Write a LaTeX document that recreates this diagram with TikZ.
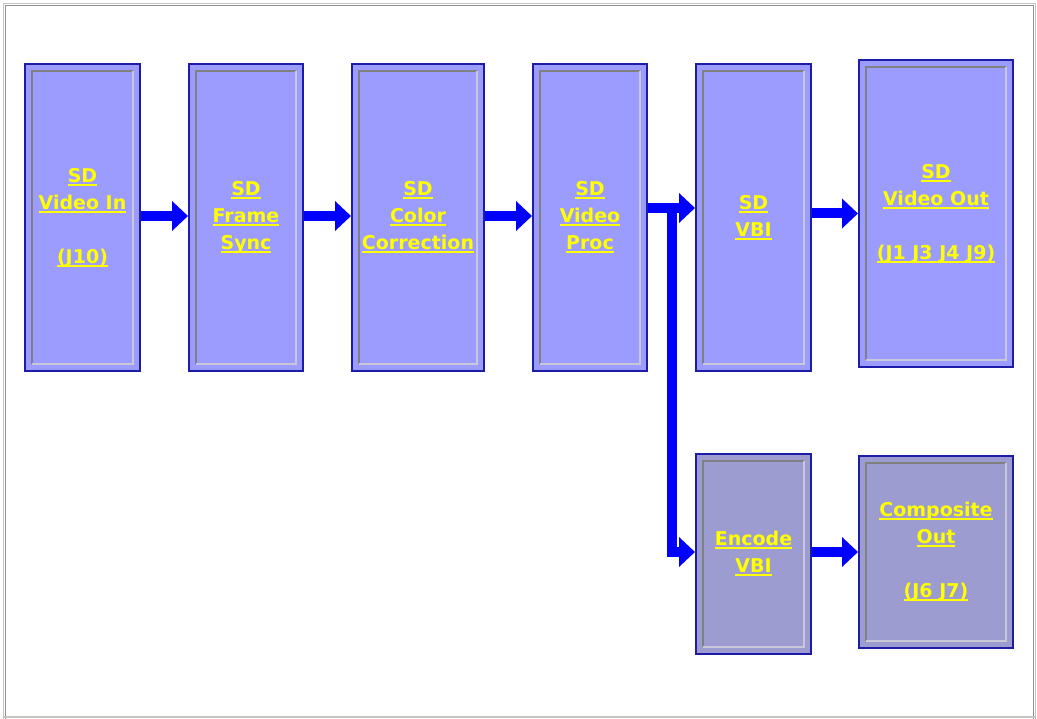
\documentclass[tikz,border=0pt]{standalone}
\usepackage{fontspec}
\setmainfont{DejaVu Sans}
\usetikzlibrary{arrows.meta}
\definecolor{boxtop}{HTML}{9C9CFF}
\definecolor{boxbot}{HTML}{9C9CD0}
\definecolor{boxedge}{HTML}{1C1CA8}
\definecolor{bevdark}{HTML}{808080}
\definecolor{bevlight}{HTML}{C8C8D8}
\definecolor{arrblue}{HTML}{0000FF}
\definecolor{txtyellow}{HTML}{FFFF00}
\definecolor{framegray}{HTML}{909090}
\definecolor{framelight}{HTML}{C4C4C0}
\newlength\yulw
\newcommand\yul[1]{\settowidth\yulw{#1}\rlap{\rule[-3.5pt]{\yulw}{2pt}}#1}
\tikzset{
  blk/.style={draw=boxedge, line width=2pt, fill=#1, rectangle, inner sep=0pt,
    text=txtyellow, align=center,
    font=\fontsize{19}{27}\selectfont\bfseries,
    path picture={
      \draw[bevdark, line width=2pt]
        ([xshift=7pt,yshift=7pt]path picture bounding box.south west)
        |- ([xshift=-7pt,yshift=-7pt]path picture bounding box.north east);
      \draw[bevlight, line width=2pt]
        ([xshift=7pt,yshift=7pt]path picture bounding box.south west)
        -| ([xshift=-7pt,yshift=-7pt]path picture bounding box.north east);
    }},
  arr/.style={draw=arrblue, line width=10pt,
    -{Triangle[length=16pt,width=29pt]}}
}
\begin{document}
\begin{tikzpicture}[x=1pt,y=-1pt]
\useasboundingbox (0,0) rectangle (1037,719);
\fill[white] (0,0) rectangle (1037,719);
\draw[framelight, line width=1.5pt] (3.5,719) -- (3.5,3.5) -- (1035.5,3.5) -- (1035.5,719);
\draw[framegray, line width=1.5pt] (5.5,719) -- (5.5,5.5) -- (1033.5,5.5) -- (1033.5,719);
\draw[framelight, line width=1.5pt] (3.5,717) -- (1035.5,717);

\node[blk=boxtop, minimum width=115pt, minimum height=307pt] (b1) at (82.5,217.5)
  {\yul{SD}\\\yul{Video In}\\[27pt]\yul{(J10)}};
\node[blk=boxtop, minimum width=114pt, minimum height=307pt] (b2) at (246,217.5)
  {\yul{SD}\\\yul{Frame}\\\yul{Sync}};
\node[blk=boxtop, minimum width=132pt, minimum height=307pt] (b3) at (418,217.5)
  {\yul{SD}\\\yul{Color}\\\yul{Correction}};
\node[blk=boxtop, minimum width=114pt, minimum height=307pt] (b4) at (590,217.5)
  {\yul{SD}\\\yul{Video}\\\yul{Proc}};
\node[blk=boxtop, minimum width=115pt, minimum height=307pt] (b5) at (753.5,217.5)
  {\yul{SD}\\\yul{VBI}};
\node[blk=boxtop, minimum width=154pt, minimum height=307pt] (b6) at (936,213.5)
  {\yul{SD}\\\yul{Video Out}\\[27pt]\yul{(J1 J3 J4 J9)}};
\node[blk=boxbot, minimum width=115pt, minimum height=200pt] (b7) at (753.5,554)
  {\yul{Encode}\\\yul{VBI}};
\node[blk=boxbot, minimum width=154pt, minimum height=192pt] (b8) at (936,552)
  {\yul{Composite}\\\yul{Out}\\[27pt]\yul{(J6 J7)}};

\coordinate (j) at (672,208);
\draw[arr] ([yshift=1.5pt]b1.east) -- ([yshift=1.5pt]b2.west);
\draw[arr] ([yshift=1.5pt]b2.east) -- ([yshift=1.5pt]b3.west);
\draw[arr] ([yshift=1.5pt]b3.east) -- ([yshift=1.5pt]b4.west);
\draw[arr] ([yshift=9.5pt]b4.east) -- ([yshift=9.5pt]b5.west);
\draw[arr] ([yshift=9.5pt]b4.east) -- (j) |- ([yshift=2pt]b7.west);
\draw[arr] (b5.east |- b6) -- (b6.west);
\draw[arr] (b7.east |- b8) -- (b8.west);
\end{tikzpicture}
\end{document}
